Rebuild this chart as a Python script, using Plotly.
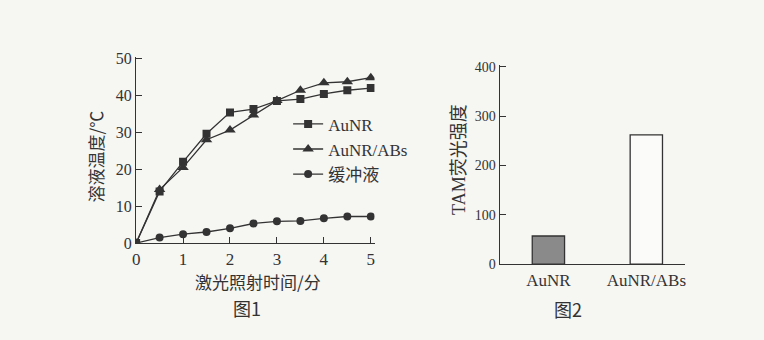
import plotly.graph_objects as go

# Figure 1 data
time_min = [0, 0.5, 1, 1.5, 2, 2.5, 3, 3.5, 4, 4.5, 5]
temp_aunr = [0, 14, 22, 29.6, 35.4, 36.3, 38.5, 39, 40.4, 41.4, 42]
temp_aunr_abs = [0, 14.5, 20.5, 28, 30.6, 34.7, 38.6, 41.4, 43.4, 43.7, 44.8]
temp_buffer = [0, 1.5, 2.4, 3.0, 4.0, 5.3, 5.9, 6.0, 6.7, 7.2, 7.2]
series_names = ["AuNR", "AuNR/ABs", "缓冲液"]

# Figure 2 data
bar_cats = ["AuNR", "AuNR/ABs"]
bar_vals = [57, 262]

ink = "#333333"
serif = "Liberation Serif, Times New Roman, serif"
cjk = "Noto Sans CJK SC, sans-serif"

fig = go.Figure()

symbols = ["square", "triangle-up", "circle"]
sizes = [8, 10, 8]
for name, ys, sym, sz in zip(series_names, [temp_aunr, temp_aunr_abs, temp_buffer], symbols, sizes):
    fig.add_trace(go.Scatter(
        x=time_min, y=ys, name=name, mode="lines+markers",
        line=dict(color=ink, width=1.3),
        marker=dict(symbol=sym, size=sz, color=ink),
        xaxis="x", yaxis="y",
    ))

fig.add_trace(go.Bar(
    x=bar_cats, y=bar_vals, width=0.33,
    marker=dict(color=["#8a8a8a", "#fbfbf9"], line=dict(color=ink, width=1.3)),
    xaxis="x2", yaxis="y2", showlegend=False,
))

W, H = 764, 340
def px(x):
    return x / W
def py(y):
    return 1 - y / H

def axis(size, **kw):
    d = dict(
        showline=True, linecolor=ink, linewidth=1.3, showgrid=False, zeroline=False,
        ticks="inside", ticklen=6, tickcolor=ink, tickwidth=1.3,
        tickfont=dict(family=serif, size=size, color=ink),
    )
    d.update(kw)
    return d

fig.update_layout(
    width=W, height=H,
    margin=dict(l=0, r=0, t=0, b=0),
    paper_bgcolor="#f6f6f3", plot_bgcolor="rgba(0,0,0,0)",
    xaxis=axis(17, domain=[px(133), px(373)], range=[0, 5.08], tickvals=[0, 1, 2, 3, 4, 5], anchor="y"),
    yaxis=axis(16, domain=[py(248), py(53)], range=[0, 50.5], tickvals=[0, 10, 20, 30, 40, 50], anchor="x"),
    xaxis2=axis(17, domain=[px(499), px(685)], range=[-0.497, 1.39], anchor="y2", ticks=""),
    yaxis2=axis(14, domain=[py(270), py(61.7)], range=[0, 404], tickvals=[0, 100, 200, 300, 400], anchor="x2"),
    legend=dict(x=px(286), y=py(105), xanchor="left", yanchor="top",
                bgcolor="rgba(0,0,0,0)", font=dict(family=serif + ", " + cjk, size=17, color=ink),
                tracegroupgap=0, itemwidth=30),
    showlegend=True,
)

annots = [
    dict(text="溶液温度/℃", x=px(92), y=py(157), textangle=-90, font=dict(family=cjk, size=17, color=ink)),
    dict(text="激光照射时间/分", x=px(256), y=py(288), font=dict(family=cjk, size=17, color=ink)),
    dict(text="图1", x=px(245), y=py(316), font=dict(family=cjk, size=18, color=ink)),
    dict(text="TAM荧光强度", x=px(458), y=py(161), textangle=-90, font=dict(family=serif + ", " + cjk, size=18, color=ink)),
    dict(text="图2", x=px(568), y=py(317), font=dict(family=cjk, size=18, color=ink)),
]
for a in annots:
    fig.add_annotation(xref="paper", yref="paper", showarrow=False, xanchor="center", yanchor="middle", **a)

fig.write_html("out.html")
